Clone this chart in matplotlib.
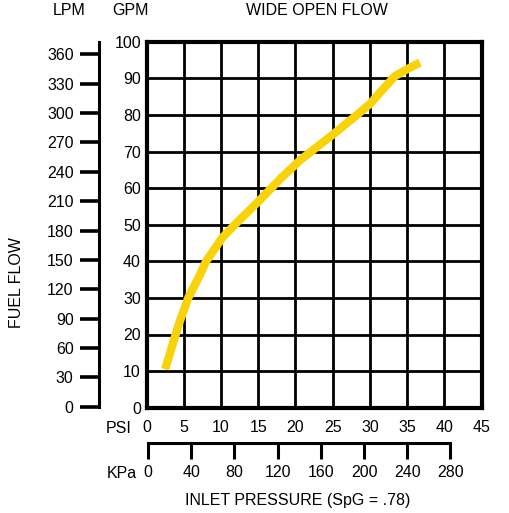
"""Wide open flow chart: fuel flow (GPM / LPM) vs inlet pressure (PSI / KPa)."""

import matplotlib
matplotlib.use("Agg")
import matplotlib.pyplot as plt
import numpy as np

plt.rcParams["font.family"] = ["Liberation Sans", "DejaVu Sans"]
plt.rcParams["font.size"] = 11.5

# curve: inlet pressure (psi) vs fuel flow (gpm)
psi = [2.5, 4.3, 5.6, 7.1, 8.0, 10.2, 12.0, 15.0, 18.0, 20.6, 25.0, 28.2, 30.0,
       31.3, 33.3, 34.9, 36.7]
gpm = [10.5, 22.6, 30.0, 36.0, 40.0, 46.5, 50.3, 56.3, 62.6, 67.6, 74.6, 79.9,
       83.0, 86.0, 90.5, 92.4, 94.3]

psi_ticks = np.arange(0, 50, 5)
gpm_ticks = np.arange(0, 110, 10)
lpm_ticks = np.arange(0, 390, 30)
kpa_ticks = np.arange(0, 320, 40)

PSI_MAX = 45
GPM_MAX = 100
LPM_TOP = 372.9          # LPM value at the top of the left scale
KPA_PER_PSI = 6.895

W, H = 509, 513
YELLOW = "#f8d30a"

fig = plt.figure(figsize=(W / 100, H / 100), dpi=100)


def fx(px):
    return px / W


def fy(py):
    return 1 - py / H


# main grid
left, right, top, bottom = 146.5, 481.7, 41.7, 407.7
ax = fig.add_axes([fx(left), fy(bottom), fx(right - left), fy(top) - fy(bottom)])
ax.set_xlim(0, PSI_MAX)
ax.set_ylim(0, GPM_MAX)
ax.set_xticks(psi_ticks)
ax.set_yticks(gpm_ticks)
ax.grid(True, color="black", lw=2.0)
ax.set_axisbelow(True)
for s in ax.spines.values():
    s.set_linewidth(3.0)
ax.tick_params(axis="both", length=0)
ax.tick_params(axis="y", pad=4)
ax.tick_params(axis="x", pad=9)
ax.plot(psi, gpm, color=YELLOW, lw=6, solid_capstyle="butt",
        solid_joinstyle="round", zorder=5)

# LPM scale on the far left
ax_lpm = fig.add_axes([fx(98.7), fy(406.7), 0.001, fy(top) - fy(406.7)])
ax_lpm.set_ylim(0, LPM_TOP)
ax_lpm.set_yticks(lpm_ticks)
ax_lpm.set_xticks([])
for name, s in ax_lpm.spines.items():
    s.set_visible(name == "left")
ax_lpm.spines["left"].set_linewidth(2.2)
ax_lpm.tick_params(axis="y", length=14, width=2.6, pad=4)
ax_lpm.patch.set_visible(False)

# KPa scale below
ax_kpa = fig.add_axes([fx(left + 1.5), fy(443.3), fx(right - left), 0.001])
ax_kpa.set_xlim(0, PSI_MAX * KPA_PER_PSI)
ax_kpa.set_xticks(kpa_ticks)
ax_kpa.set_yticks([])
for name, s in ax_kpa.spines.items():
    s.set_visible(name == "bottom")
ax_kpa.spines["bottom"].set_linewidth(2.2)
ax_kpa.spines["bottom"].set_bounds(0, kpa_ticks[-1])
ax_kpa.tick_params(axis="x", length=11.5, width=2.2, pad=4)
ax_kpa.patch.set_visible(False)

# labels
fig.text(fx(69.5), fy(11), "LPM", ha="center", va="center")
fig.text(fx(130.5), fy(11), "GPM", ha="center", va="center")
fig.text(fx(316.7), fy(11), "WIDE OPEN FLOW", ha="center", va="center")
fig.text(fx(17), fy(282.6), "FUEL FLOW", ha="center", va="center", rotation=90)
fig.text(fx(132), fy(428.5), "PSI", ha="right", va="center")
fig.text(fx(137), fy(473.5), "KPa", ha="right", va="center")
fig.text(fx(298), fy(500), "INLET PRESSURE (SpG = .78)", ha="center", va="center")

fig.savefig("out.png", dpi=100)
